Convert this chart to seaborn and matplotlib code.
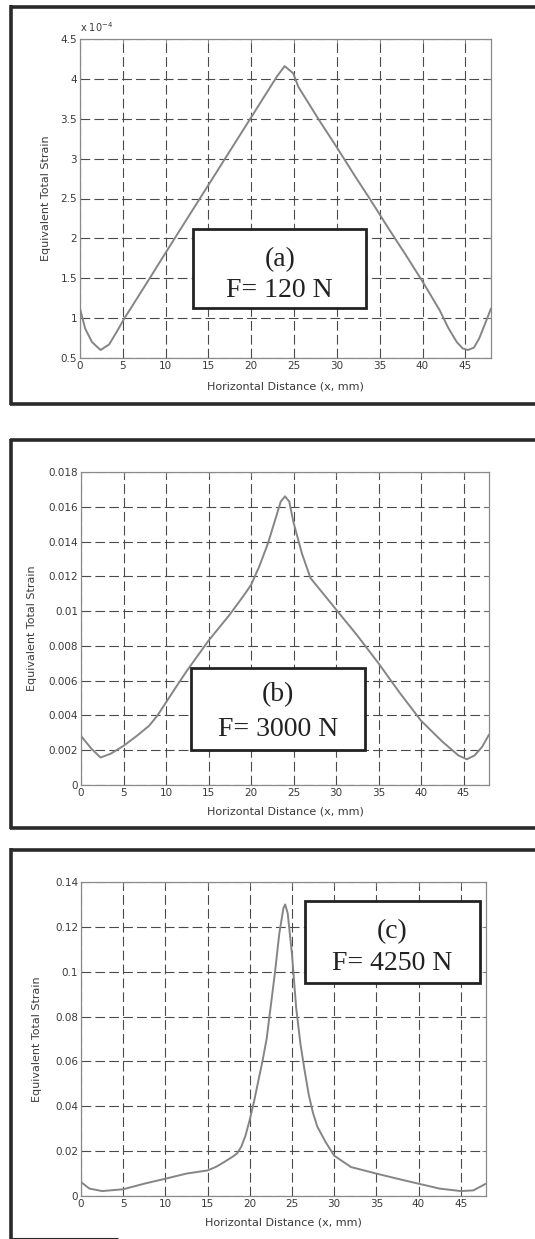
import numpy as np
import pandas as pd
import seaborn as sns
import matplotlib
matplotlib.use("Agg")
import matplotlib.pyplot as plt
from matplotlib.patches import Rectangle
from matplotlib.lines import Line2D
from matplotlib.ticker import FuncFormatter

# ---------------- data ----------------
x_a = [0, 0.6, 1.4, 2.4, 3.4, 4.3, 5.2, 6.5, 8.2, 10, 12, 14, 16, 18, 20, 22, 23, 23.9,
       24.9, 25.5, 28, 30, 32, 34, 36, 38, 40, 42, 43, 44, 44.7, 45.3, 46, 46.6, 47.2, 48]
strain_a_x1e4 = [1.12, 0.87, 0.70, 0.60, 0.67, 0.83, 1.0, 1.22, 1.51, 1.82, 2.16, 2.5, 2.84,
                 3.18, 3.52, 3.86, 4.03, 4.16, 4.07, 3.9, 3.47, 3.14, 2.8, 2.47, 2.13, 1.8,
                 1.46, 1.1, 0.88, 0.7, 0.62, 0.6, 0.63, 0.74, 0.9, 1.12]

x_b = [0, 1.2, 2.3, 3.5, 5, 6.5, 8, 9, 10, 11, 12.5, 15, 17.5, 19, 20, 21, 22, 23, 23.5,
       24, 24.5, 25, 26, 27, 28, 30, 32.5, 35, 37.5, 40, 42.5, 44.4, 45.4, 46.3, 47.2, 48]
strain_b = [0.00282, 0.0021, 0.00158, 0.0018, 0.00225, 0.0028, 0.0034, 0.0040, 0.00475,
            0.0055, 0.0066, 0.0083, 0.0098, 0.0108, 0.0115, 0.0126, 0.0139, 0.0155, 0.0163,
            0.0166, 0.0163, 0.0151, 0.0133, 0.0119, 0.0113, 0.0101, 0.0086, 0.0070, 0.0053,
            0.0037, 0.0025, 0.0017, 0.00148, 0.0017, 0.0022, 0.0029]

x_c = [0, 1, 2.5, 5, 7.5, 10, 12.5, 15, 16, 17, 18, 18.5, 19, 19.5, 20, 20.5, 21, 21.5, 22,
       22.5, 23, 23.5, 24, 24.2, 24.5, 25, 25.5, 26, 26.5, 27, 27.5, 28, 29, 30, 32, 35,
       37.5, 40, 42.5, 45, 46.5, 48]
strain_c = [0.0062, 0.0033, 0.0022, 0.0030, 0.0055, 0.0077, 0.0100, 0.0114, 0.0130, 0.0152,
            0.0176, 0.019, 0.022, 0.027, 0.034, 0.042, 0.051, 0.060, 0.070, 0.085, 0.100,
            0.117, 0.1285, 0.130, 0.126, 0.108, 0.084, 0.068, 0.056, 0.045, 0.037, 0.031,
            0.024, 0.018, 0.0129, 0.0100, 0.0077, 0.0055, 0.0033, 0.0022, 0.0025, 0.0055]

x_ticks = [0, 5, 10, 15, 20, 25, 30, 35, 40, 45]
y_ticks_a = [0.5, 1, 1.5, 2, 2.5, 3, 3.5, 4, 4.5]
y_ticks_b = [0, 0.002, 0.004, 0.006, 0.008, 0.01, 0.012, 0.014, 0.016, 0.018]
y_ticks_c = [0, 0.02, 0.04, 0.06, 0.08, 0.1, 0.12, 0.14]

panel_tags = ["(a)", "(b)", "(c)"]
panel_forces = ["F= 120 N", "F= 3000 N", "F= 4250 N"]
x_label = "Horizontal Distance (x, mm)"
y_label = "Equivalent Total Strain"

# ---------------- style ----------------
sns.set_style("white")
plt.rcParams["font.family"] = ["DejaVu Sans"]
plt.rcParams["lines.scale_dashes"] = False

W, H = 535, 1239
fig = plt.figure(figsize=(W / 100, H / 100), dpi=100)
fig.patch.set_facecolor("white")


def px_axes(left, right, top, bottom):
    return [left / W, 1 - bottom / H, (right - left) / W, (bottom - top) / H]


panels = [
    dict(rect=px_axes(80, 491, 39, 358), x=x_a, y=strain_a_x1e4, yt=y_ticks_a,
         ylim=(0.5, 4.5), box=(0.275, 0.157, 0.697, 0.404), tag_y=0.307, f_y=0.213,
         ylab_x=-0.071, xlab_y=-0.075),
    dict(rect=px_axes(81, 489, 472, 785), x=x_b, y=strain_b, yt=y_ticks_b,
         ylim=(0, 0.018), box=(0.270, 0.112, 0.696, 0.374), tag_y=0.288, f_y=0.176,
         ylab_x=-0.108, xlab_y=-0.070),
    dict(rect=px_axes(81, 486, 882, 1196), x=x_c, y=strain_c, yt=y_ticks_c,
         ylim=(0, 0.14), box=(0.553, 0.678, 0.985, 0.939), tag_y=0.841, f_y=0.742,
         ylab_x=-0.097, xlab_y=-0.070),
]

TXT = "#3a3a3a"
for i, p in enumerate(panels):
    ax = fig.add_axes(p["rect"])
    df = pd.DataFrame({"x": p["x"], "y": p["y"]})
    sns.lineplot(data=df, x="x", y="y", ax=ax, color="#858585", lw=1.4, sort=False, zorder=3)
    ax.set_xlim(0, 48)
    ax.set_ylim(*p["ylim"])
    ax.set_xticks(x_ticks)
    ax.set_yticks(p["yt"])
    ax.yaxis.set_major_formatter(FuncFormatter(lambda v, pos: "%g" % v))
    ax.grid(True, ls=(0, (7, 3)), color="#4a4a4a", lw=0.8, zorder=1)
    ax.set_axisbelow(True)
    ax.tick_params(direction="in", length=3, width=0.6, top=True, right=True,
                   labelsize=7.5, labelcolor=TXT, color="#777777", pad=2)
    for s in ax.spines.values():
        s.set_color("#8a8a8a")
        s.set_linewidth(0.9)
    ax.set_xlabel(x_label, fontsize=8, color=TXT)
    ax.set_ylabel(y_label, fontsize=8, color=TXT)
    ax.yaxis.set_label_coords(p["ylab_x"], 0.5)
    ax.xaxis.set_label_coords(0.5, p["xlab_y"])

    x0, y0, x1, y1 = p["box"]
    ax.add_patch(Rectangle((x0, y0), x1 - x0, y1 - y0, transform=ax.transAxes,
                           facecolor="white", edgecolor="#222222", lw=2.0, zorder=5))
    cx = (x0 + x1) / 2
    ax.text(cx, p["tag_y"], panel_tags[i], transform=ax.transAxes, ha="center", va="center",
            fontsize=20, family=["Liberation Serif", "DejaVu Serif"], color="#222222", zorder=6)
    ax.text(cx, p["f_y"], panel_forces[i], transform=ax.transAxes, ha="center", va="center",
            fontsize=20, family=["Liberation Serif", "DejaVu Serif"], color="#222222", zorder=6)
    if i == 0:
        ax.text(0.0, 1.015, r"x 10$^{-4}$", transform=ax.transAxes, ha="left", va="bottom",
                fontsize=7, color=TXT)


# ---------------- frames ----------------
def fline(xs, ys, lw=2.6, color="#2a2a2a"):
    fig.add_artist(Line2D([x / W for x in xs], [1 - y / H for y in ys],
                          lw=lw, color=color, solid_capstyle="butt"))


# panel (a)
fline([11, 11], [5, 405]); fline([10, 535], [6.5, 6.5]); fline([10, 535], [404, 404])
# panel (b)
fline([11, 11], [439, 829]); fline([10, 535], [440, 440]); fline([10, 535], [828, 828])
# panel (c)
fline([11, 11], [848, 1239]); fline([10, 535], [849.5, 849.5])
fline([10, 118], [1237.5, 1237.5], lw=0.8)

fig.savefig("out.png", dpi=100, facecolor="white")
